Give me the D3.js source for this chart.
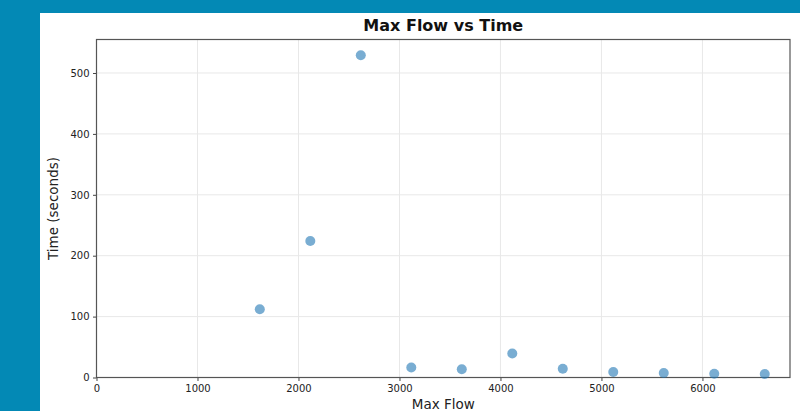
<!DOCTYPE html>
<html lang="en">
<head>
  <meta charset="utf-8">
  <title>Max Flow vs Time</title>
  <style>
    html, body { margin: 0; padding: 0; background: #0389b5; }
    svg { display: block; }
    text { font-family: "DejaVu Sans", sans-serif; fill: #222; }
  </style>
</head>
<body>
  <script src="https://cdnjs.cloudflare.com/ajax/libs/d3/7.8.5/d3.min.js"></script>
  <script>
  // data
  const maxFlow = [1617, 2117, 2617, 3117, 3617, 4117, 4617, 5117, 5617, 6117, 6617];
  const timeSec = [112, 224, 529, 16.5, 13.5, 39.5, 14.5, 9, 7.5, 6.3, 5.8];
  const xTicks = [0, 1000, 2000, 3000, 4000, 5000, 6000];
  const yTicks = [0, 100, 200, 300, 400, 500];

  const W = 800, H = 411;
  const margin = { top: 39.5, right: 10, bottom: 33.5, left: 96.5 };

  const svg = d3.select("body").append("svg")
    .attr("width", W)
    .attr("height", H);

  // white figure panel on blue page
  svg.append("rect")
    .attr("x", 40).attr("y", 13)
    .attr("width", W - 40).attr("height", H - 13)
    .attr("fill", "#fff");

  const x = d3.scaleLinear()
    .domain([0, 6867])
    .range([margin.left, W - margin.right]);

  const y = d3.scaleLinear()
    .domain([0, 555])
    .range([H - margin.bottom, margin.top]);

  // grid
  svg.append("g")
    .selectAll("line")
    .data(xTicks)
    .join("line")
    .attr("x1", d => x(d)).attr("x2", d => x(d))
    .attr("y1", y(0)).attr("y2", margin.top)
    .attr("stroke", "#e8e8e8")
    .attr("stroke-width", 1);

  svg.append("g")
    .selectAll("line")
    .data(yTicks)
    .join("line")
    .attr("x1", margin.left).attr("x2", W - margin.right)
    .attr("y1", d => y(d)).attr("y2", d => y(d))
    .attr("stroke", "#e8e8e8")
    .attr("stroke-width", 1);

  // axes
  const xAxis = d3.axisBottom(x)
    .tickValues(xTicks)
    .tickFormat(d3.format("d"))
    .tickSize(3.5)
    .tickPadding(3.5);

  const yAxis = d3.axisLeft(y)
    .tickValues(yTicks)
    .tickFormat(d3.format("d"))
    .tickSize(3.5)
    .tickPadding(3.5);

  const gx = svg.append("g")
    .attr("transform", `translate(0, ${y(0)})`)
    .call(xAxis);
  const gy = svg.append("g")
    .attr("transform", `translate(${margin.left}, 0)`)
    .call(yAxis);

  [gx, gy].forEach(g => {
    g.select(".domain").remove();
    g.selectAll(".tick line").attr("stroke", "#444");
    g.selectAll(".tick text")
      .attr("font-family", "DejaVu Sans, sans-serif")
      .attr("font-size", 10)
      .attr("fill", "#222");
  });

  // frame
  svg.append("rect")
    .attr("x", margin.left)
    .attr("y", margin.top)
    .attr("width", W - margin.right - margin.left)
    .attr("height", y(0) - margin.top)
    .attr("fill", "none")
    .attr("stroke", "#555")
    .attr("stroke-width", 1.2);

  // points
  svg.append("g")
    .selectAll("circle")
    .data(maxFlow)
    .join("circle")
    .attr("cx", d => x(d))
    .attr("cy", (d, i) => y(timeSec[i]))
    .attr("r", 5)
    .attr("fill", "#1f77b4")
    .attr("fill-opacity", 0.6);

  // labels
  svg.append("text")
    .attr("x", (margin.left + W - margin.right) / 2)
    .attr("y", 31)
    .attr("text-anchor", "middle")
    .attr("font-size", 16)
    .attr("font-weight", "bold")
    .style("fill", "#111")
    .text("Max Flow vs Time");

  svg.append("text")
    .attr("x", (margin.left + W - margin.right) / 2)
    .attr("y", 409)
    .attr("text-anchor", "middle")
    .attr("font-size", 13.5)
    .text("Max Flow");

  svg.append("text")
    .attr("transform", `translate(58, ${(margin.top + y(0)) / 2}) rotate(-90)`)
    .attr("text-anchor", "middle")
    .attr("font-size", 13.5)
    .text("Time (seconds)");
  </script>
</body>
</html>
